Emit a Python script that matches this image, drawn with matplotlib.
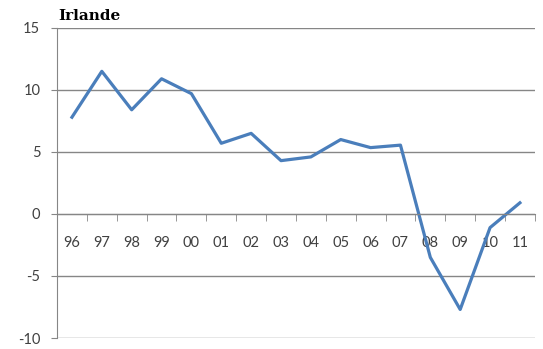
import matplotlib
matplotlib.use("Agg")
import matplotlib.pyplot as plt

# Data
years = ["96", "97", "98", "99", "00", "01", "02", "03",
         "04", "05", "06", "07", "08", "09", "10", "11"]
values = [7.8, 11.5, 8.4, 10.9, 9.7, 5.7, 6.5, 4.3,
          4.6, 6.0, 5.35, 5.55, -3.5, -7.7, -1.1, 0.9]
y_ticks = [-10, -5, 0, 5, 10, 15]

plt.rcParams["font.family"] = ["Lato", "DejaVu Sans"]

fig = plt.figure(figsize=(5.43, 3.49), dpi=100)
ax = fig.add_axes([0.105, 0.0315, 0.88, 0.8885])

x = list(range(len(years)))
ax.plot(x, values, color="#4A7EBB", linewidth=2.3, solid_joinstyle="round")

ax.set_xlim(-0.5, len(years) - 0.5)
ax.set_ylim(-10, 15)
ax.set_yticks(y_ticks)
ax.set_yticklabels([str(v) for v in y_ticks], fontsize=10.5, color="#404040")
ax.tick_params(axis="y", length=4, color="#868686", pad=8)

# horizontal gridlines
ax.yaxis.grid(True, color="#868686", linewidth=1)
ax.set_axisbelow(True)

# category axis sitting on the zero line
ax.spines["bottom"].set_position(("data", 0))
ax.spines["bottom"].set_color("#868686")
ax.spines["left"].set_color("#868686")
ax.spines["top"].set_visible(False)
ax.spines["right"].set_visible(False)

ax.set_xticks(x)
ax.set_xticklabels(years, fontsize=10.5, color="#404040")
ax.tick_params(axis="x", which="major", length=0, pad=16)
ax.set_xticks([i + 0.5 for i in x], minor=True)
ax.tick_params(axis="x", which="minor", length=5, direction="out",
               color="#868686")

fig.text(0.107, 0.935, "Irlande", fontsize=11, fontweight="bold",
         family="DejaVu Serif", ha="left", va="bottom")

fig.savefig("out.png", dpi=100)
